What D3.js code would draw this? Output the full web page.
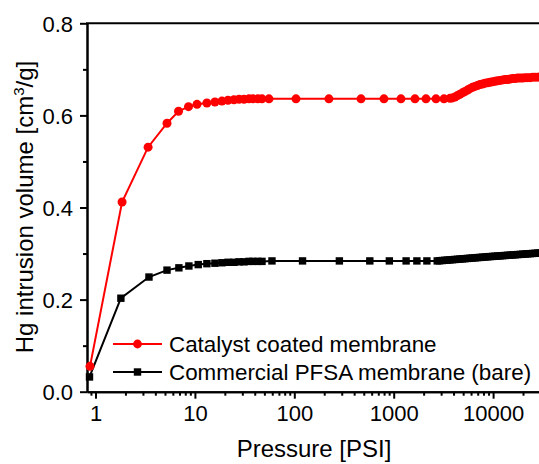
<!DOCTYPE html>
<html>
<head>
<meta charset="utf-8">
<script src="https://cdn.jsdelivr.net/npm/d3@7"></script>
<style>
html,body{margin:0;padding:0;background:#fff;}
svg{display:block;}
text{font-family:"Liberation Sans",Arial,sans-serif;fill:#000;}
</style>
</head>
<body>
<svg id="chart" width="539" height="464"></svg>
<script>
// ---- data ----
const ccmPressure = [0.88,1.85,3.38,5.24,6.84,8.62,10.5,13.2,15.9,18.7,21.5,24.7,27.8,31.2,35,38.4,43,47.3,55.6,104,223,469,798,1183,1637,2112,2663,3206,3684,
  3900,4130,4380,4640,4920,5210,5520,5850,6200,6570,6960,7380,7820,8290,8790,9310,9870,10460,11090,11750,12450,13200,13990,14830,15720,16660,17660,18720,19840,21030,22290,23630,25050,26550,28140,29830,31620];
const ccmVolume = [0.055,0.412,0.531,0.583,0.609,0.619,0.624,0.627,0.629,0.631,0.633,0.634,0.635,0.635,0.636,0.636,0.636,0.636,0.636,0.636,0.636,0.636,0.636,0.636,0.636,0.636,0.636,0.636,0.637,
  0.638,0.640,0.643,0.646,0.649,0.652,0.655,0.658,0.661,0.663,0.665,0.667,0.668,0.670,0.671,0.672,0.673,0.674,0.675,0.676,0.677,0.678,0.678,0.679,0.680,0.680,0.681,0.681,0.681,0.682,0.682,0.682,0.683,0.683,0.683,0.684,0.684];

const pfsaPressure = [0.87,1.8,3.45,5.24,6.9,8.7,10.8,13.2,15.9,18.7,21.5,24.7,27.8,31.2,35,38.4,43,47.3,59.6,121,284,575,904,1333,1711,2157,
  2740,2900,3080,3260,3460,3670,3890,4120,4370,4630,4910,5200,5510,5840,6190,6570,6960,7380,7820,8290,8790,9310,9870,10460,11090,11750,12460,13200,13990,14830,15720,16670,17670,18730,19850,21040,22300,23640,25060,26560,28150,29840,31630];
const pfsaVolume = [0.032,0.203,0.249,0.264,0.269,0.273,0.276,0.278,0.279,0.280,0.281,0.281,0.282,0.282,0.283,0.283,0.283,0.283,0.284,0.284,0.284,0.284,0.284,0.284,0.284,0.284,
  0.284,0.2844,0.2849,0.2853,0.2858,0.2862,0.2867,0.2871,0.2876,0.288,0.2885,0.2889,0.2894,0.2898,0.2903,0.2907,0.2912,0.2916,0.2921,0.2925,0.293,0.2934,0.2938,0.2942,0.2946,0.295,0.2954,0.2958,0.2962,0.2966,0.297,0.2974,0.2978,0.2982,0.2986,0.299,0.2994,0.2998,0.3002,0.3006,0.301,0.3014,0.3018];

const xMajorTicks = [1,10,100,1000,10000];
const xTickLabels = ["1","10","100","1000","10000"];
const xMinorTicks = [0.9,2,3,4,5,6,7,8,9,20,30,40,50,60,70,80,90,200,300,400,500,600,700,800,900,2000,3000,4000,5000,6000,7000,8000,9000,20000];
const yMajorTicks = [0,0.2,0.4,0.6,0.8];
const yTickLabels = ["0.0","0.2","0.4","0.6","0.8"];
const yMinorTicks = [0.1,0.3,0.5,0.7];
const seriesNames = ["Catalyst coated membrane","Commercial PFSA membrane (bare)"];

// ---- layout ----
const L = 87, R = 539, T = 23.3, B = 391.7;
const svg = d3.select("#chart");
const x = d3.scaleLog().domain([0.821, 28960]).range([L, R]);
const y = d3.scaleLinear().domain([0, 0.8]).range([B, T]);

// axes
const xAxis = d3.axisBottom(x).tickValues(xMajorTicks).tickFormat((d,i)=>xTickLabels[i]).tickSize(7).tickSizeOuter(0);
const xMinor = d3.axisBottom(x).tickValues(xMinorTicks).tickFormat("").tickSize(4).tickSizeOuter(0);
const yAxis = d3.axisLeft(y).tickValues(yMajorTicks).tickFormat((d,i)=>yTickLabels[i]).tickSize(7).tickSizeOuter(0);
const yMinor = d3.axisLeft(y).tickValues(yMinorTicks).tickFormat("").tickSize(4).tickSizeOuter(0);

function style(g){
  g.selectAll("path.domain").attr("stroke","#000").attr("stroke-width",2);
  g.selectAll(".tick line").attr("stroke","#000").attr("stroke-width",2);
  g.selectAll(".tick text").style("font-family",'"Liberation Sans",Arial,sans-serif').style("font-size","22px").attr("fill","#000");
}
const gxm = svg.append("g").attr("transform",`translate(0,${B})`).call(xMinor); style(gxm);
const gx = svg.append("g").attr("transform",`translate(0,${B})`).call(xAxis); style(gx);
gx.selectAll(".tick text").attr("dy",null).attr("y",29);
const gym = svg.append("g").attr("transform",`translate(${L},0)`).call(yMinor); style(gym);
const gy = svg.append("g").attr("transform",`translate(${L},0)`).call(yAxis); style(gy);
gy.selectAll(".tick text").attr("x",-14).attr("dy","0.35em");

// top border
svg.append("line").attr("x1",L-1).attr("x2",R).attr("y1",T).attr("y2",T).attr("stroke","#000").attr("stroke-width",2);

// axis titles
svg.append("text").attr("x",314).attr("y",457).attr("text-anchor","middle").style("font-size","24px").text("Pressure [PSI]");
const yt = svg.append("text").attr("transform","translate(33,207) rotate(-90)").attr("text-anchor","middle").style("font-size","24px");
yt.append("tspan").text("Hg intrusion volume [cm");
yt.append("tspan").attr("dy",-9).style("font-size","15px").text("3");
yt.append("tspan").attr("dy",9).text("/g]");

// series
const line = d3.line().x(d=>x(d[0])).y(d=>y(d[1]));
const pfsa = pfsaPressure.map((p,i)=>[p,pfsaVolume[i]]);
const ccm = ccmPressure.map((p,i)=>[p,ccmVolume[i]]);

svg.append("path").datum(pfsa).attr("d",line).attr("fill","none").attr("stroke","#000").attr("stroke-width",2);
svg.append("g").selectAll("rect").data(pfsa).join("rect")
  .attr("x",d=>x(d[0])-3.7).attr("y",d=>y(d[1])-3.7).attr("width",7.4).attr("height",7.4).attr("fill","#000");

svg.append("path").datum(ccm).attr("d",line).attr("fill","none").attr("stroke","#ff0000").attr("stroke-width",2);
svg.append("g").selectAll("circle").data(ccm).join("circle")
  .attr("cx",d=>x(d[0])).attr("cy",d=>y(d[1])).attr("r",4.5).attr("fill","#ff0000");

// legend
const legY = [344, 372];
const legColor = ["#ff0000","#000"];
seriesNames.forEach((name,i)=>{
  const g = svg.append("g");
  g.append("line").attr("x1",113).attr("x2",162).attr("y1",legY[i]).attr("y2",legY[i]).attr("stroke",legColor[i]).attr("stroke-width",2);
  if(i===0) g.append("circle").attr("cx",137.5).attr("cy",legY[i]).attr("r",4.4).attr("fill",legColor[i]);
  else g.append("rect").attr("x",137.5-3.7).attr("y",legY[i]-3.7).attr("width",7.4).attr("height",7.4).attr("fill",legColor[i]);
  g.append("text").attr("x",169).attr("y",legY[i]).attr("dy","0.35em").style("font-size","22.4px").text(name);
});
</script>
</body>
</html>
